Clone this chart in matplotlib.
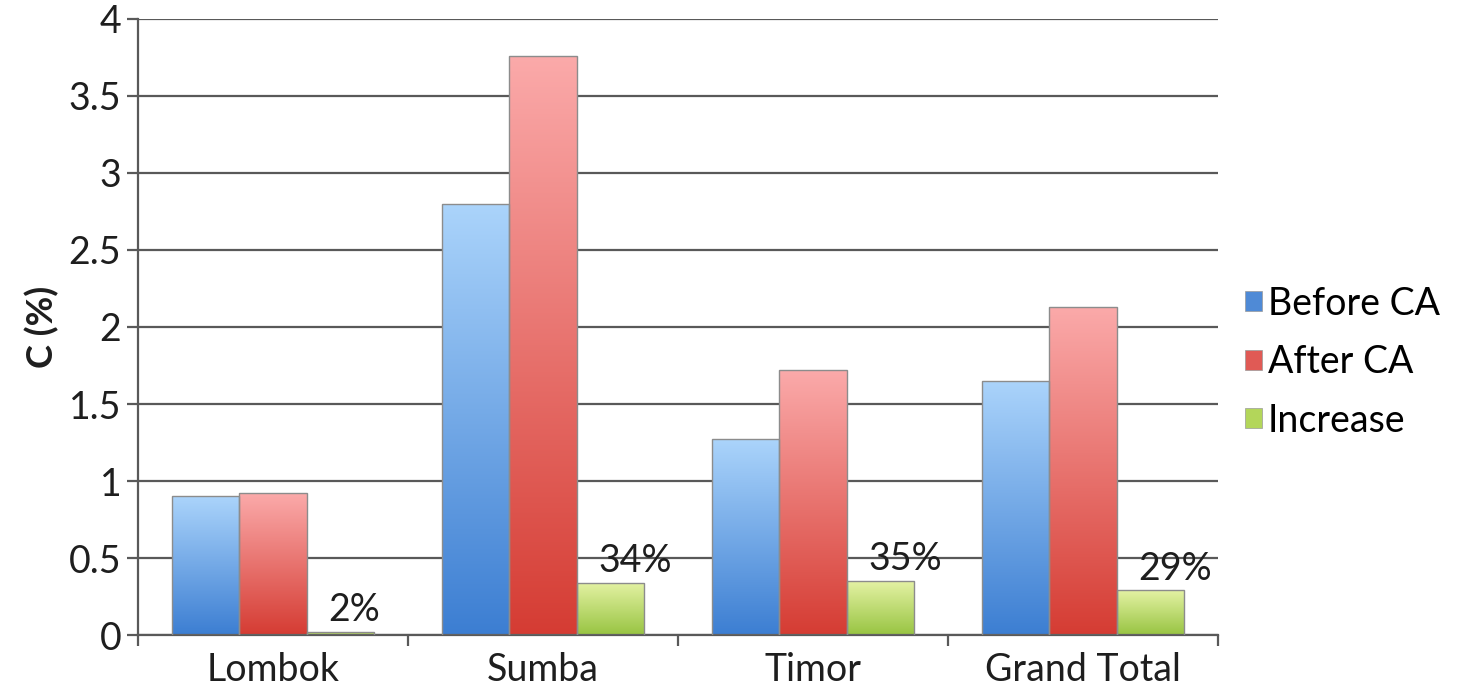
import numpy as np
import matplotlib.pyplot as plt
from matplotlib.colors import LinearSegmentedColormap
from matplotlib.patches import Patch

plt.rcParams['font.family'] = ['Lato', 'DejaVu Sans']

regions = ["Lombok", "Sumba", "Timor", "Grand Total"]
before_ca = [0.90, 2.80, 1.27, 1.65]
after_ca = [0.92, 3.76, 1.72, 2.13]
increase = [0.02, 0.34, 0.35, 0.29]
increase_labels = ["2%", "34%", "35%", "29%"]

series = [
    ("Before CA", before_ca, "#abd4fb", "#3c7ed2", "#4f8ad6"),
    ("After CA", after_ca, "#fbaaaa", "#d53c33", "#e05a55"),
    ("Increase", increase, "#e4f2a4", "#98c442", "#b3d65a"),
]

fig = plt.figure(figsize=(14.72, 6.95), dpi=100)
ax = fig.add_axes([0.09375, 0.0863, 0.7337, 0.8864])

x = np.arange(len(regions))
w = 0.25
grid_col = "#595959"
text_col = "#1e1e1e"
fs = 27


def gradient_bar(ax, xc, h, top, bottom):
    cmap = LinearSegmentedColormap.from_list("g", [bottom, top])
    bar = ax.bar(xc, h, w, color="none", edgecolor="#8c8c8c", linewidth=1.0, zorder=3)[0]
    grad = np.linspace(0, 1, 256).reshape(-1, 1)
    im = ax.imshow(grad, cmap=cmap, origin="lower", aspect="auto",
                   extent=(xc - w / 2, xc + w / 2, 0, h), zorder=2)
    im.set_clip_path(bar)


for i, (name, vals, top, bottom, _) in enumerate(series):
    for j, v in enumerate(vals):
        gradient_bar(ax, x[j] + (i - 1) * w, v, top, bottom)

# percentage labels over the increase bars
for j, v in enumerate(increase):
    ax.text(x[j] + w / 2 + 0.08, v + 0.07, increase_labels[j], ha="left", va="baseline",
            fontsize=fs, color=text_col, zorder=4)

ax.set_xlim(-0.5, len(regions) - 0.5)
ax.set_ylim(0, 4)
ax.set_yticks(np.arange(0, 4.01, 0.5))
ax.set_yticklabels(["0", "0.5", "1", "1.5", "2", "2.5", "3", "3.5", "4"])
ax.yaxis.grid(True, color=grid_col, linewidth=1.6, zorder=0)
ax.set_axisbelow(True)

ax.set_xticks(x)
ax.set_xticklabels(regions)
ax.set_xticks(np.arange(-0.5, len(regions)), minor=True)
ax.tick_params(axis="x", which="major", length=0, pad=12, labelsize=fs, colors=text_col)
ax.tick_params(axis="x", which="minor", length=8, width=1.6, color=grid_col)
ax.tick_params(axis="y", length=8, width=1.6, color=grid_col, labelsize=fs,
               labelcolor=text_col, pad=4)

for s in ["top", "right"]:
    ax.spines[s].set_visible(False)
for s in ["left", "bottom"]:
    ax.spines[s].set_color(grid_col)
    ax.spines[s].set_linewidth(1.6)

ax.set_ylabel("C (%)", fontsize=26, fontweight="bold", labelpad=7, color=text_col)

handles = [Patch(facecolor=c, edgecolor="#9a9a9a", linewidth=0.5) for _, _, _, _, c in series]
ax.legend(handles, [s[0] for s in series], loc="center left", bbox_to_anchor=(1.008, 0.443),
          frameon=False, fontsize=fs, handlelength=0.45, handleheight=0.45,
          handletextpad=0.15, labelspacing=0.6, borderpad=0)

fig.savefig("out.png", dpi=100)
